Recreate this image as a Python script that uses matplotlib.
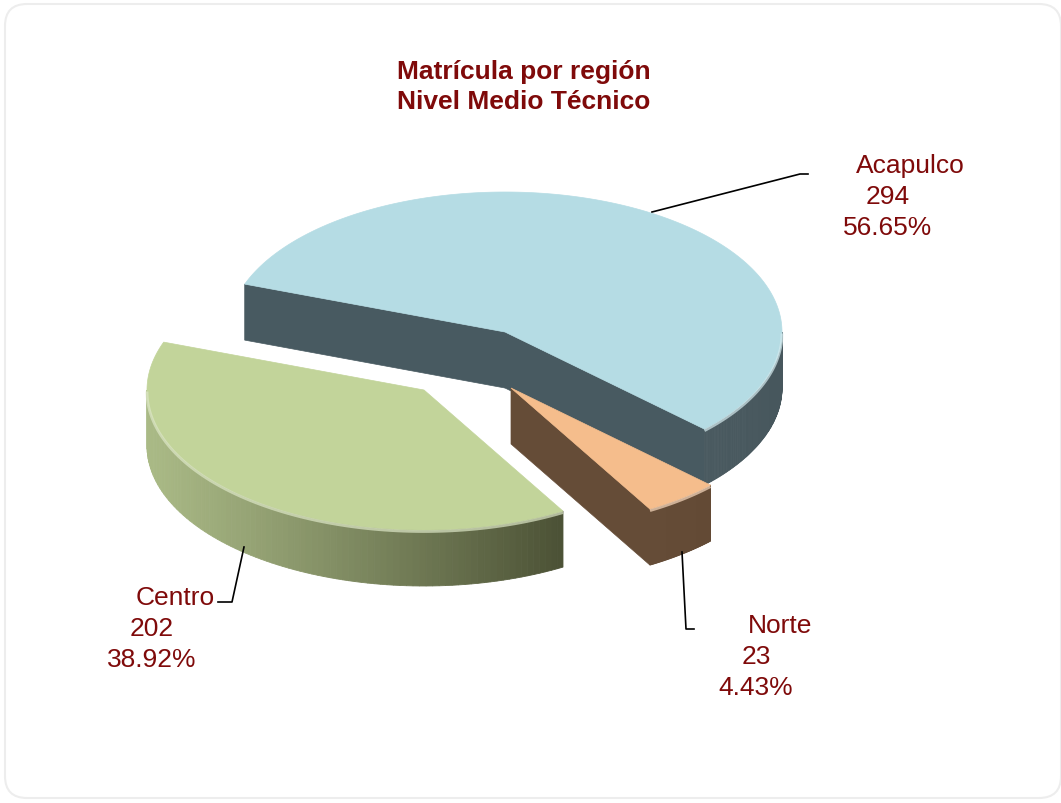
import matplotlib

matplotlib.use("Agg")

import matplotlib.pyplot as plt
import numpy as np
from matplotlib.colors import to_rgb
from matplotlib.patches import FancyBboxPatch, Polygon

plt.rcParams["font.family"] = ["Liberation Sans", "DejaVu Sans"]

# data (clockwise order, as drawn)
categories = ["Acapulco", "Norte", "Centro"]
values = [294, 23, 202]

TITLE = ["Matrícula por región", "Nivel Medio Técnico"]
TEXT_RED = "#7F0A0A"

# style: per-slice colours and apex positions (pixel space)
TOP_COLORS = ["#B5DCE4", "#F5BD8C", "#C2D49A"]
SIDE_LEFT = ["#4A5A60", "#654C37", "#AABA86"]
SIDE_RIGHT = ["#47575D", "#634A35", "#4B5135"]
FACE_COLORS = ["#485A61", "#654C37", "#4C5236"]
APEX = [(505, 333), (511, 389), (424, 391)]
RX, RY, DEPTH = 277, 140, 56
START_ANGLE = 160.0

# label placement (pixel space)
LABEL_POS = [(888, 166), (756, 626), (152, 598)]
LABEL_NAME_DX = [22, 24, 23]
LEADERS = [
    [(652, 213), (800, 175), (808, 175)],
    [(682, 553), (686, 630), (694, 630)],
    [(244, 548), (232, 603), (218, 603)],
]


def rim(apex, theta, drop=0.0):
    t = np.radians(theta)
    return apex[0] + RX * np.cos(t), apex[1] - RY * np.sin(t) + drop


def mix(c1, c2, f):
    a, b = np.array(to_rgb(c1)), np.array(to_rgb(c2))
    return tuple(a + (b - a) * f)


fig = plt.figure(figsize=(10.61, 8.04), dpi=100)
ax = fig.add_axes([0, 0, 1, 1])
ax.set_xlim(0, 1061)
ax.set_ylim(804, 0)
ax.axis("off")

ax.add_patch(
    FancyBboxPatch(
        (5, 5), 1056, 794,
        boxstyle="round,pad=0,rounding_size=22",
        facecolor="white", edgecolor="#EDEDED", linewidth=1.5,
    )
)

total = sum(values)
fractions = [v / total for v in values]
bounds = []
theta = START_ANGLE
for f in fractions:
    bounds.append((theta, theta - 360 * f))
    theta -= 360 * f

for i, ((ts, te), apex) in enumerate(zip(bounds, APEX)):
    faces = []
    if np.cos(np.radians(ts)) < 0:
        faces.append(ts)
    if np.cos(np.radians(te)) > 0:
        faces.append(te)
    for th in faces:
        rx, ry = rim(apex, th)
        quad = [apex, (rx, ry), (rx, ry + DEPTH), (apex[0], apex[1] + DEPTH)]
        ax.add_patch(Polygon(quad, closed=True, facecolor=FACE_COLORS[i],
                             edgecolor=FACE_COLORS[i], linewidth=0.5))

    lo, hi = max(te, -180), min(ts, 0)
    if lo < hi:
        steps = np.linspace(lo, hi, 90)
        wall_x = [rim(apex, a)[0] for a in steps]
        xmin, xmax = min(wall_x), max(wall_x)
        for a0, a1 in zip(steps[:-1], steps[1:]):
            x0, y0 = rim(apex, a0)
            x1, y1 = rim(apex, a1)
            frac = np.clip(((x0 + x1) / 2 - xmin) / (xmax - xmin), 0, 1)
            col = mix(SIDE_LEFT[i], SIDE_RIGHT[i], frac ** 1.1)
            ax.add_patch(Polygon(
                [(x0, y0), (x1, y1), (x1, y1 + DEPTH), (x0, y0 + DEPTH)],
                closed=True, facecolor=col, edgecolor=col, linewidth=0.6,
            ))

    arc = np.linspace(ts, te, 200)
    pts = [apex] + [rim(apex, a) for a in arc]
    ax.add_patch(Polygon(pts, closed=True, facecolor=TOP_COLORS[i],
                         edgecolor=TOP_COLORS[i], linewidth=0.5))
    if lo < hi:
        hl = np.linspace(lo, hi, 120)
        hx, hy = zip(*[rim(apex, a, 1.5) for a in hl])
        ax.plot(hx, hy, color=mix(TOP_COLORS[i], "white", 0.45),
                linewidth=2.0, alpha=0.7, solid_capstyle="butt")

for i, name in enumerate(categories):
    xs, ys = zip(*LEADERS[i])
    ax.plot(xs, ys, color="black", linewidth=1.2)
    lx, ly = LABEL_POS[i]
    pct = f"{values[i] / total * 100:.2f}%"
    ax.text(lx + LABEL_NAME_DX[i], ly, name, ha="center", va="center",
            fontsize=19, color=TEXT_RED)
    ax.text(lx, ly + 31, f"{values[i]}", ha="center", va="center",
            fontsize=19, color=TEXT_RED)
    ax.text(lx, ly + 62, pct, ha="center", va="center",
            fontsize=19, color=TEXT_RED)

ax.text(524, 72, TITLE[0], ha="center", va="center", fontsize=19,
        fontweight="bold", color=TEXT_RED)
ax.text(524, 102, TITLE[1], ha="center", va="center", fontsize=19,
        fontweight="bold", color=TEXT_RED)

fig.savefig("out.png", dpi=100, facecolor="white")
